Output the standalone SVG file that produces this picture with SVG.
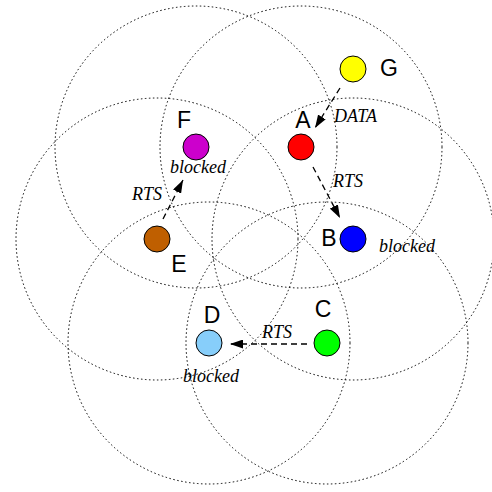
<svg xmlns="http://www.w3.org/2000/svg" width="492" height="492" viewBox="0 0 492 492">
<defs>
<style>
.range{fill:none;stroke:#000;stroke-width:1;stroke-dasharray:1.5 2.5}
.node{stroke:#000;stroke-width:1}
.lbl{font-family:"Liberation Sans",Arial,sans-serif;font-size:23px;fill:#000;text-anchor:middle}
.it{font-family:"Liberation Serif","Times New Roman",serif;font-style:italic;font-size:18px;fill:#000}
.arr{fill:none;stroke:#000;stroke-width:1.3;stroke-dasharray:6 4}
</style>
<marker id="ah" markerUnits="userSpaceOnUse" markerWidth="13" markerHeight="9" refX="13" refY="4.5" orient="auto">
<path d="M0,0 L13,4.5 L0,9 Z" fill="#000"/>
</marker>
</defs>
<rect width="492" height="492" fill="#fff"/>
<g id="ranges">
<circle class="range" cx="196" cy="147" r="141"/>
<circle class="range" cx="301" cy="147" r="141"/>
<circle class="range" cx="157" cy="239" r="141"/>
<circle class="range" cx="353" cy="239" r="141"/>
<circle class="range" cx="209" cy="343" r="141"/>
<circle class="range" cx="327" cy="343" r="141"/>
</g>
<g id="connectors">
<line class="arr" x1="340" y1="88" x2="315" y2="128" marker-end="url(#ah)"/>
<text class="it" x="334" y="122">DATA</text>
<line class="arr" x1="313" y1="167" x2="340" y2="218" marker-end="url(#ah)"/>
<text class="it" x="333" y="187">RTS</text>
<line class="arr" x1="163" y1="219" x2="183" y2="180" marker-end="url(#ah)"/>
<text class="it" x="162" y="200" text-anchor="end">RTS</text>
<line class="arr" x1="307" y1="344" x2="230" y2="344" marker-end="url(#ah)"/>
<text class="it" x="262" y="338">RTS</text>
</g>
<g id="G"><circle class="node" cx="353" cy="69" r="13" fill="#ffff00"/><text class="lbl" x="389" y="76">G</text></g>
<g id="A"><circle class="node" cx="301" cy="147" r="13" fill="#ff0000"/><text class="lbl" x="303" y="128">A</text></g>
<g id="F"><circle class="node" cx="196" cy="147" r="13" fill="#cc00cc"/><text class="lbl" x="184" y="128">F</text><text class="it" x="198" y="173" text-anchor="middle">blocked</text></g>
<g id="E"><circle class="node" cx="157" cy="239" r="13" fill="#bf5f00"/><text class="lbl" x="179" y="272">E</text></g>
<g id="B"><circle class="node" cx="353" cy="239" r="13" fill="#0000ff"/><text class="lbl" x="329" y="246">B</text><text class="it" x="379" y="252">blocked</text></g>
<g id="D"><circle class="node" cx="209" cy="343" r="13" fill="#87cefa"/><text class="lbl" x="212" y="323">D</text><text class="it" x="211" y="382" text-anchor="middle">blocked</text></g>
<g id="C"><circle class="node" cx="327" cy="343" r="13" fill="#00ff00"/><text class="lbl" x="323" y="317">C</text></g>
</svg>
